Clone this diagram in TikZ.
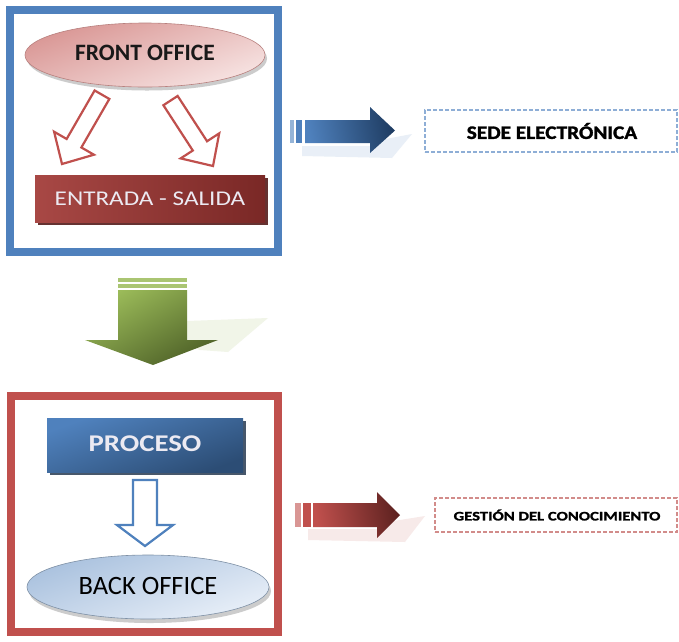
\documentclass[tikz,border=0pt]{standalone}
\usepackage{fontspec}
\setmainfont{Carlito}
\newfontfamily\widefont[FakeStretch=1.2]{Carlito}
\newfontfamily\heavyfont[FakeStretch=1.12,FakeBold=1.5]{Carlito}
\newfontfamily\heavywide[FakeStretch=1.28,FakeBold=1.5]{Carlito}
\usetikzlibrary{shapes.geometric,shadows}
\definecolor{frameblue}{HTML}{4F81BD}
\definecolor{framered}{HTML}{C0504D}
\definecolor{darkblue}{HTML}{1F3D63}
\definecolor{midblue}{HTML}{2C4D75}
\definecolor{pinkA}{HTML}{D99694}
\definecolor{pinkB}{HTML}{F7E4E3}
\definecolor{barA}{HTML}{A84845}
\definecolor{barB}{HTML}{7A2826}
\definecolor{greenA}{HTML}{9BBB59}
\definecolor{greenB}{HTML}{4F6228}
\definecolor{greenL}{HTML}{F1F5E8}
\definecolor{lblueA}{HTML}{A9C1DE}
\definecolor{lblueB}{HTML}{E8EFF8}
\definecolor{redA}{HTML}{C0504D}
\definecolor{redB}{HTML}{5E2220}
\definecolor{dashblue}{HTML}{8EAED6}
\definecolor{dashred}{HTML}{D28C8A}
\definecolor{paletext}{HTML}{ECEAF2}
\tikzset{
  frame/.style={line width=8pt},
  oval/.style={ellipse, inner sep=0pt, draw=#1, line width=0.6pt},
  bar/.style={rectangle, inner sep=0pt},
  hollow/.style={fill=white, line width=2.2pt, line join=miter},
  tag/.style={rectangle, inner sep=0pt, line width=1.4pt, dash pattern=on 4pt off 2pt}
}
\begin{document}
\begin{tikzpicture}[x=1pt,y=-1pt]
\useasboundingbox (0,0) rectangle (679,641);
\fill[white] (0,0) rectangle (679,641);

% ---------- upper (front office) block ----------
\draw[frame, frameblue] (10,10) rectangle (278,252);
\fill[gray!40] (147,58.5) ellipse [x radius=120, y radius=32];
\node[oval=pinkA!85!black, minimum width=240pt, minimum height=64pt,
      top color=pinkA, bottom color=pinkB, shading angle=20] (front) at (145,55)
      {\raisebox{4pt}{\fontsize{23.5}{26}\selectfont\bfseries\color{black!90}FRONT OFFICE}};

% hollow arrows from the ellipse
\begin{scope}[shift={(62,164)}, rotate=240]
  \draw[hollow, draw=framered] (-80,-8.5) -- (-24,-8.5) -- (-24,-23) -- (0,0) -- (-24,23) -- (-24,8.5) -- (-80,8.5) -- cycle;
\end{scope}
\begin{scope}[shift={(213,166)}, rotate=-57]
  \draw[hollow, draw=framered] (-78,-8.5) -- (-24,-8.5) -- (-24,-23) -- (0,0) -- (-24,23) -- (-24,8.5) -- (-78,8.5) -- cycle;
\end{scope}

\node[bar, minimum width=230pt, minimum height=47pt, left color=barA, right color=barB,
      drop shadow={shadow xshift=3pt, shadow yshift=-3pt, fill=barB!70!black, opacity=0.9}]
      (io) at (150,198.5)
      {\widefont\fontsize{21}{23}\selectfont\color{paletext}ENTRADA - SALIDA};

% blue arrow to SEDE ELECTRONICA
\fill[frameblue!15, opacity=0.8] (302,146) -- (372,146) -- (375,141) -- (412,134) -- (392,158) -- (302,156) -- cycle;
\fill[frameblue!60] (290,120) rectangle (294,143);
\fill[frameblue] (296,120) rectangle (302,143);
\shade[left color=frameblue, right color=darkblue, shading angle=100]
  (305,120) -- (370,120) -- (370,107) -- (395,130.5) -- (370,153) -- (370,143) -- (305,143) -- cycle;
\coordinate (bluetip) at (395,130.5);

\node[tag, draw=dashblue, minimum width=252pt, minimum height=42pt] (sede) at (551,131) {};
\node at (552,131) {\heavyfont\fontsize{19}{21}\selectfont\bfseries SEDE ELECTRÓNICA};

% ---------- green arrow ----------
\fill[greenL] (187,321) -- (268,318) -- (228,352) -- (200,350) -- (187,345) -- cycle;
\fill[greenA!85] (118,278) rectangle (187,282);
\fill[greenA!85] (118,283.5) rectangle (187,288);
\shade[top color=greenA, bottom color=greenB, shading angle=30]
  (118,290) -- (187,290) -- (187,340) -- (218,340) -- (153,365) -- (85,340) -- (118,340) -- cycle;

% ---------- lower (back office) block ----------
\draw[frame, framered] (11,396) rectangle (278,632);

\node[bar, minimum width=196pt, minimum height=54pt, top color=frameblue, bottom color=midblue,
      shading angle=20,
      drop shadow={shadow xshift=2.5pt, shadow yshift=-2.5pt, fill=midblue!60!black, opacity=0.8}]
      (proc) at (145,445)
      {\raisebox{3pt}{\widefont\fontsize{24}{26}\selectfont\bfseries\color{paletext}PROCESO}};

\draw[hollow, draw=frameblue] (133,480) -- (157,480) -- (157,525) -- (173,525) -- (145,546)
  -- (117,525) -- (133,525) -- cycle;

\fill[gray!40] (150,591) ellipse [x radius=121, y radius=32];
\node[oval=lblueA!75!black, minimum width=242pt, minimum height=64pt,
      top color=lblueA, bottom color=lblueB, shading angle=20] (back) at (148,587)
      {\raisebox{3pt}{\fontsize{26.5}{28}\selectfont\color{black}BACK OFFICE}};

% red arrow to GESTION DEL CONOCIMIENTO
\fill[framered!15, opacity=0.8] (308,529) -- (378,529) -- (381,523) -- (425,516) -- (405,542) -- (308,540) -- cycle;
\fill[framered!60] (295,503) rectangle (301,527);
\fill[framered] (303,503) rectangle (311,527);
\shade[left color=redA, right color=redB, shading angle=100]
  (313,503) -- (377,503) -- (377,492) -- (400,515) -- (377,538) -- (377,527) -- (313,527) -- cycle;
\coordinate (redtip) at (400,515);

\node[tag, draw=dashred, minimum width=242pt, minimum height=34pt] (gest) at (556,515) {};
\node at (557,515) {\heavywide\fontsize{13}{15}\selectfont\bfseries GESTIÓN DEL CONOCIMIENTO};
\end{tikzpicture}
\end{document}
